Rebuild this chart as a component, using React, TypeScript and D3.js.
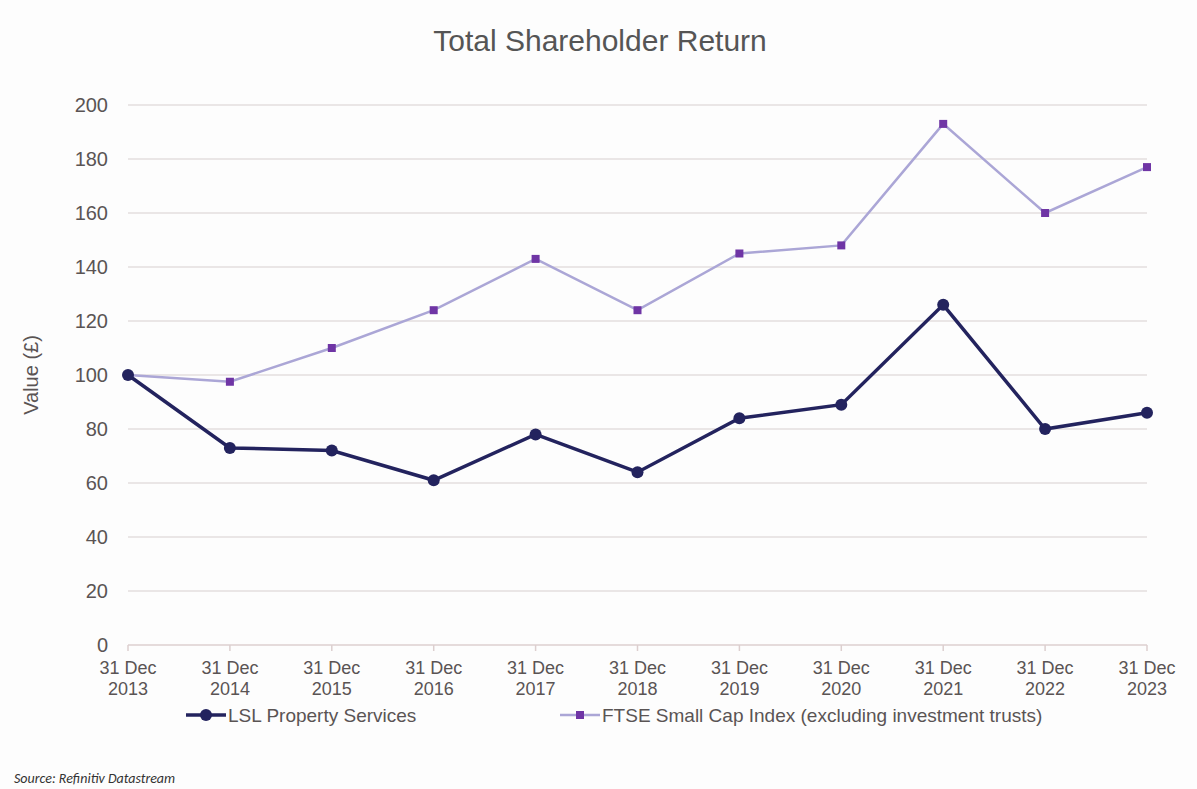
import React, { useEffect, useRef } from "react";
import * as d3 from "d3";

const years = ["2013", "2014", "2015", "2016", "2017", "2018", "2019", "2020", "2021", "2022", "2023"];
const lslValues = [100, 73, 72, 61, 78, 64, 84, 89, 126, 80, 86];
const ftseValues = [100, 97.5, 110, 124, 143, 124, 145, 148, 193, 160, 177];
const yTicks = [0, 20, 40, 60, 80, 100, 120, 140, 160, 180, 200];
const seriesNames = ["LSL Property Services", "FTSE Small Cap Index (excluding investment trusts)"];

const W = 1197;
const H = 789;
const FONT = "Arial, 'Liberation Sans', sans-serif";

export default function App() {
  const ref = useRef<SVGSVGElement>(null);

  useEffect(() => {
    const svg = d3.select(ref.current);
    svg.selectAll("*").remove();

    const left = 128, right = 1147, top = 105, bottom = 645;
    const x = d3.scalePoint<string>().domain(years).range([left, right]);
    const y = d3.scaleLinear().domain([0, 200]).range([bottom, top]);

    svg.append("rect").attr("width", W).attr("height", H).attr("fill", "#fdfdfd");

    svg.append("text")
      .attr("x", 600).attr("y", 51)
      .attr("text-anchor", "middle")
      .attr("font-family", FONT).attr("font-size", 30)
      .attr("fill", "#555")
      .text("Total Shareholder Return");

    // gridlines
    svg.append("g").selectAll("line")
      .data(yTicks.filter((d) => d > 0))
      .join("line")
      .attr("x1", left).attr("x2", right)
      .attr("y1", (d) => y(d)).attr("y2", (d) => y(d))
      .attr("stroke", "#e3dede").attr("stroke-width", 1.5);

    // x axis line
    svg.append("line")
      .attr("x1", left).attr("x2", right)
      .attr("y1", y(0)).attr("y2", y(0))
      .attr("stroke", "#dccfcf").attr("stroke-width", 1.5);
    svg.append("g").selectAll("line")
      .data(years)
      .join("line")
      .attr("x1", (d) => x(d)!).attr("x2", (d) => x(d)!)
      .attr("y1", y(0)).attr("y2", y(0) + 6)
      .attr("stroke", "#dccfcf").attr("stroke-width", 1.5);

    // y tick labels
    svg.append("g").selectAll("text")
      .data(yTicks)
      .join("text")
      .attr("x", 108).attr("y", (d) => y(d) + 7)
      .attr("text-anchor", "end")
      .attr("font-family", FONT).attr("font-size", 20)
      .attr("fill", "#5a5454")
      .text((d) => String(d));

    // y axis title
    svg.append("text")
      .attr("transform", `translate(38, ${y(100)}) rotate(-90)`)
      .attr("text-anchor", "middle")
      .attr("font-family", FONT).attr("font-size", 20)
      .attr("fill", "#5a5454")
      .text("Value (£)");

    // x labels
    const xl = svg.append("g").selectAll("g").data(years).join("g");
    xl.append("text")
      .attr("x", (d) => x(d)!).attr("y", 674)
      .attr("text-anchor", "middle")
      .attr("font-family", FONT).attr("font-size", 18)
      .attr("fill", "#5a5454")
      .text("31 Dec");
    xl.append("text")
      .attr("x", (d) => x(d)!).attr("y", 695)
      .attr("text-anchor", "middle")
      .attr("font-family", FONT).attr("font-size", 18)
      .attr("fill", "#5a5454")
      .text((d) => d);

    const line = d3.line<number>()
      .x((_, i) => x(years[i])!)
      .y((d) => y(d));

    // FTSE
    svg.append("path")
      .datum(ftseValues)
      .attr("d", line)
      .attr("fill", "none")
      .attr("stroke", "#aba6d6").attr("stroke-width", 2.5);
    svg.append("g").selectAll("rect")
      .data(ftseValues)
      .join("rect")
      .attr("x", (_, i) => x(years[i])! - 4)
      .attr("y", (d) => y(d) - 4)
      .attr("width", 8).attr("height", 8)
      .attr("fill", "#6f35a5");

    // LSL
    svg.append("path")
      .datum(lslValues)
      .attr("d", line)
      .attr("fill", "none")
      .attr("stroke", "#23235e").attr("stroke-width", 3.5);
    svg.append("g").selectAll("circle")
      .data(lslValues)
      .join("circle")
      .attr("cx", (_, i) => x(years[i])!)
      .attr("cy", (d) => y(d))
      .attr("r", 6)
      .attr("fill", "#23235e");

    // legend
    const ly = 715;
    svg.append("line").attr("x1", 186).attr("x2", 226).attr("y1", ly).attr("y2", ly)
      .attr("stroke", "#23235e").attr("stroke-width", 3.5);
    svg.append("circle").attr("cx", 206).attr("cy", ly).attr("r", 6).attr("fill", "#23235e");
    svg.append("text").attr("x", 228).attr("y", ly + 7)
      .attr("font-family", FONT).attr("font-size", 19).attr("fill", "#5a5454")
      .text(seriesNames[0]);

    svg.append("line").attr("x1", 560).attr("x2", 600).attr("y1", ly).attr("y2", ly)
      .attr("stroke", "#aba6d6").attr("stroke-width", 2.5);
    svg.append("rect").attr("x", 576).attr("y", ly - 4).attr("width", 8).attr("height", 8).attr("fill", "#6f35a5");
    svg.append("text").attr("x", 602).attr("y", ly + 7)
      .attr("font-family", FONT).attr("font-size", 19).attr("fill", "#5a5454")
      .text(seriesNames[1]);

    svg.append("text").attr("x", 14).attr("y", 783)
      .attr("font-family", "Calibri, Carlito, 'Liberation Sans', sans-serif")
      .attr("font-style", "italic")
      .attr("font-size", 14).attr("fill", "#333")
      .text("Source: Refinitiv Datastream");
  }, []);

  return (
    <div style={{ position: "absolute", left: 0, top: 0 }}>
      <svg ref={ref} width={W} height={H} style={{ display: "block" }} />
    </div>
  );
}
